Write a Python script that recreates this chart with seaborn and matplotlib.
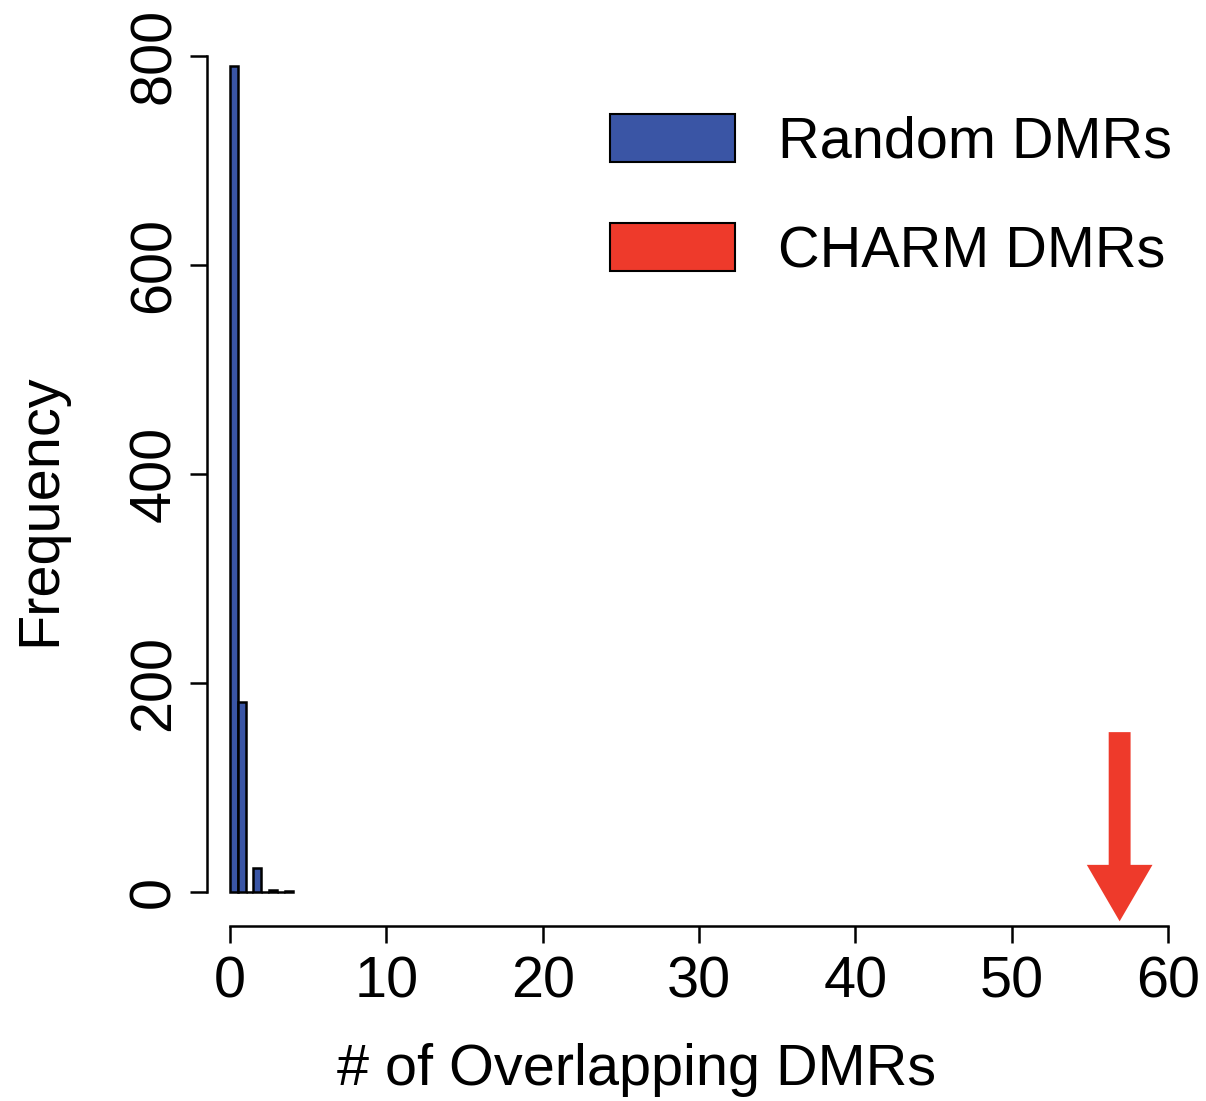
import numpy as np
import pandas as pd
import matplotlib
matplotlib.use("Agg")
import matplotlib.pyplot as plt
import seaborn as sns
from matplotlib.patches import Patch

# ---- data ----
bin_edges = [0, 0.5, 1, 1.5, 2, 2.5, 3, 3.5, 4]
bin_counts = [790, 182, 0, 23, 0, 2, 0, 1]
charm_overlap = 56.9
x_ticks = [0, 10, 20, 30, 40, 50, 60]
y_ticks = [0, 200, 400, 600, 800]
legend_labels = ["Random DMRs", "CHARM DMRs"]

blue = "#3A55A5"
red = "#EE3A2B"

sns.set_style("ticks")
plt.rcParams['font.family'] = ['Liberation Sans', 'DejaVu Sans']
plt.rcParams['text.color'] = 'black'
plt.rcParams['axes.labelcolor'] = 'black'
plt.rcParams['xtick.color'] = 'black'
plt.rcParams['ytick.color'] = 'black'

W, H = 1206, 1101
fig = plt.figure(figsize=(W / 100, H / 100), dpi=100)
left_px, right_px, bot_px, top_px = 207, 1190, 926, 22.5
ax = fig.add_axes([left_px / W, 1 - bot_px / H, (right_px - left_px) / W, (bot_px - top_px) / H])

centers = [(a + b) / 2 for a, b in zip(bin_edges[:-1], bin_edges[1:])]
df = pd.DataFrame({"x": centers, "w": bin_counts})
sns.histplot(data=df, x="x", weights="w", bins=bin_edges, ax=ax,
             color=blue, alpha=1, edgecolor="black", linewidth=1.8)

ax.set_xlim(-1.47, 61.4)
ax.set_ylim(-32.5, 832)

# arrow for CHARM DMRs
ax.arrow(charm_overlap, 153, 0, -181, width=1.4, head_width=4.2, head_length=54,
         length_includes_head=True, color=red, linewidth=0)

fs = 41.5
ax.set_xticks(x_ticks)
ax.set_yticks(y_ticks)
ax.set_xticklabels([str(t) for t in x_ticks], fontsize=fs)
ax.set_yticklabels([str(t) for t in y_ticks], fontsize=fs, rotation=90, va="center")
ax.tick_params(axis="both", length=12.2, width=1.8, color="black", labelcolor="black")
ax.tick_params(axis="x", pad=9)
ax.tick_params(axis="y", pad=6)

for s in ["top", "right"]:
    ax.spines[s].set_visible(False)
ax.spines["left"].set_bounds(0, 800)
ax.spines["bottom"].set_bounds(0, 60)
for s in ["left", "bottom"]:
    ax.spines[s].set_linewidth(1.8)
    ax.spines[s].set_color("black")

ax.set_xlabel("# of Overlapping DMRs", fontsize=fs, color="black")
ax.set_ylabel("Frequency", fontsize=fs, color="black")
ax.xaxis.set_label_coords((637 - left_px) / (right_px - left_px), (bot_px - 1070) / (bot_px - top_px))
ax.xaxis.label.set_va("center")
ax.yaxis.set_label_coords((40 - left_px) / (right_px - left_px), (bot_px - 510) / (bot_px - top_px))
ax.yaxis.label.set_va("center")

handles = [Patch(facecolor=blue, edgecolor="black", linewidth=1.5),
           Patch(facecolor=red, edgecolor="black", linewidth=1.5)]
leg = ax.legend(handles, legend_labels, fontsize=fs, frameon=False,
                handlelength=2.17, handleheight=0.9, handletextpad=0.75,
                labelspacing=0.93, loc="upper left",
                bbox_to_anchor=((610 - left_px) / (right_px - left_px), (bot_px - 114) / (bot_px - top_px)),
                borderaxespad=0, borderpad=0)
for t in leg.get_texts():
    t.set_color("black")

fig.savefig("out.png", dpi=100)
